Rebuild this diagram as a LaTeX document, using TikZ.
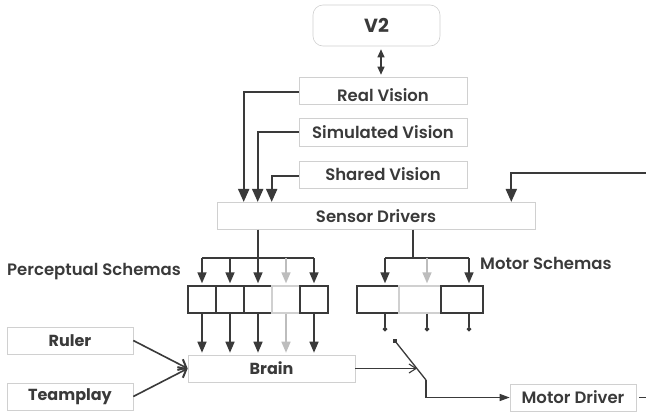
\documentclass[tikz,border=0pt]{standalone}
\usepackage{fontspec}
\setmainfont{Poppins}
\newfontfamily\semib{Poppins SemiBold}
\usetikzlibrary{arrows.meta,calc}
\definecolor{ink}{HTML}{3A3A3A}
\definecolor{faint}{HTML}{D0D0D0}
\definecolor{ghost}{HTML}{BDBDBD}
\begin{document}
\begin{tikzpicture}[x=1pt,y=-1pt,
  lbl/.style={draw=faint, line width=0.6pt, text=ink, inner sep=0pt, minimum height=27pt,
    font=\semib\fontsize{16.5}{18}\selectfont},
  blbl/.style={lbl, font=\bfseries\fontsize{16}{18}\selectfont},
  psch/.style={draw=ink, line width=1.4pt, minimum width=28pt, minimum height=27pt, inner sep=0pt},
  msch/.style={psch, minimum width=42pt},
  ghostbox/.style={draw=faint},
  wire/.style={draw=ink, line width=1.5pt},
  arr/.style={wire, -{Triangle[length=11pt,width=9pt]}},
  garr/.style={arr, draw=ghost, color=ghost},
  bigarr/.style={draw=ink, line width=2pt, -{Triangle[length=13pt,width=11pt]}},
  barb/.style={wire, line width=1.6pt, -{Straight Barb[length=7pt,width=12pt,line width=2pt]}},
  thinbarb/.style={wire, line width=1.1pt, -{Straight Barb[length=7pt,width=9pt,line width=1.1pt]}},
  dia/.style={wire, line width=1.1pt, -{Diamond[length=5pt,width=5pt]}},
  tag/.style={text=ink, inner sep=0pt, font=\semib\fontsize{16.5}{18}\selectfont}
]
\useasboundingbox (0,0) rectangle (646,413);
\fill[white] (0,0) rectangle (646,413);

% top boxes
\node[draw=faint, line width=0.6pt, rounded corners=10pt, minimum width=127pt, minimum height=41pt,
  text=ink, font=\bfseries\fontsize{19}{21}\selectfont] (V2) at (376.5,25.5) {V2};
\node[lbl, minimum width=168pt] (RV) at (383,90.5) {\raisebox{-4.5pt}[\height][\depth]{Real Vision}};
\node[lbl, minimum width=168pt, minimum height=28pt] (SV) at (383,132) {Simulated Vision};
\node[lbl, minimum width=168pt] (ShV) at (383,174.5) {Shared Vision};
\node[lbl, minimum width=318pt] (SD) at (376,215.75) {Sensor Drivers};

% perceptual schemas
\node[psch] (P1) at (202,299.5) {};
\node[psch] (P2) at (230,299.5) {};
\node[psch] (P3) at (258,299.5) {};
\node[psch, ghostbox] (P4) at (286,299.5) {};
\node[psch] (P5) at (314,299.5) {};
\draw[psch] (P5.north west) rectangle (P5.south east);
\node[tag, anchor=west] (PSlab) at (7,272) {Perceptual Schemas};

% motor schemas
\node[msch] (M1) at (378,299.5) {};
\node[msch, ghostbox] (M2) at (420,299.5) {};
\node[msch] (M3) at (462,299.5) {};
\draw[psch] (M3.north west) rectangle (M3.south east);
\node[tag, anchor=west] (MSlab) at (480,263) {Motor Schemas};

% lower boxes
\node[blbl, minimum width=167pt] (BR) at (271.5,368.5) {Brain};
\node[blbl, minimum width=126pt] (RU) at (70,340.5) {Ruler};
\node[blbl, minimum width=126pt] (TP) at (70,396.5) {Teamplay};
\node[lbl, minimum width=126pt] (MD) at (573,397.5) {Motor Driver};

% V2 link
\draw[draw=ink, line width=1.2pt, {Triangle[length=8pt,width=7pt]}-{Triangle[length=8pt,width=7pt]}]
  ([xshift=4.5pt,yshift=-3pt]V2.south) -- ([xshift=4.5pt,yshift=2pt]V2.south |- RV.north);

% vision links
\draw[bigarr] ([yshift=-1.5pt]RV.west) -| ([xshift=27pt]SD.north west);
\draw[bigarr] (SV.west) -| ([xshift=41pt]SD.north west);
\draw[bigarr] ([yshift=-1.5pt]ShV.west) -| ([xshift=55pt]SD.north west);
\coordinate (fbin) at (646,173);
\draw[bigarr] (fbin) -| ([xshift=-24pt]SD.north east);

% sensor drivers to perceptual schemas
\coordinate (pbus) at (258,258);
\draw[wire] (P3.north |- SD.south) -- (pbus);
\draw[wire] (P1.north |- pbus) -- (P5.north |- pbus);
\foreach \p in {P1,P2,P3,P5}{\draw[arr, shorten >=2pt] (\p.north |- pbus) -- (\p.north);}
\draw[garr, shorten >=2pt] (P4.north |- pbus) -- (P4.north);
\foreach \p in {P1,P2,P3,P5}{\draw[arr, shorten >=2pt] (\p.south) -- (\p.south |- BR.north);}
\draw[garr, shorten >=2pt] (P4.south) -- (P4.south |- BR.north);

% sensor drivers to motor schemas
\coordinate (mbus) at (413,258);
\draw[wire] (mbus |- SD.south) -- (mbus);
\draw[wire] ([xshift=7pt]M1.north |- mbus) -- ([xshift=7pt]M3.north |- mbus);
\draw[arr, shorten >=2pt] ([xshift=7pt]M1.north |- mbus) -- ([xshift=7pt]M1.north);
\draw[garr, shorten >=2pt] ([xshift=7pt]M2.north |- mbus) -- ([xshift=7pt]M2.north);
\draw[arr, shorten >=2pt] ([xshift=7pt]M3.north |- mbus) -- ([xshift=7pt]M3.north);
\foreach \m in {M1,M2,M3}{\draw[dia] ([xshift=7pt]\m.south) -- ([xshift=7pt,yshift=-18pt]\m.south);}

% switch
\node[fill=ink, minimum size=3.5pt, inner sep=0pt] (sw) at (395,341) {};
\coordinate (swb) at (426,380);
\draw[wire, line width=1.3pt] (sw.center) -- (swb);
\draw[wire, line width=1.3pt, -{Triangle[length=10pt,width=7pt]}] (swb) |- (MD.west);
\coordinate (swhit) at (417,368.5);
\draw[thinbarb] (BR.east) -- (swhit);

% ruler / teamplay
\draw[barb] (RU.east) -- (BR.west);
\draw[barb] (TP.east) -- (BR.west);

% motor driver out
\coordinate (mdout) at (646,397.5);
\draw[wire] ([xshift=3pt]MD.east) -- (mdout);
\end{tikzpicture}
\end{document}
